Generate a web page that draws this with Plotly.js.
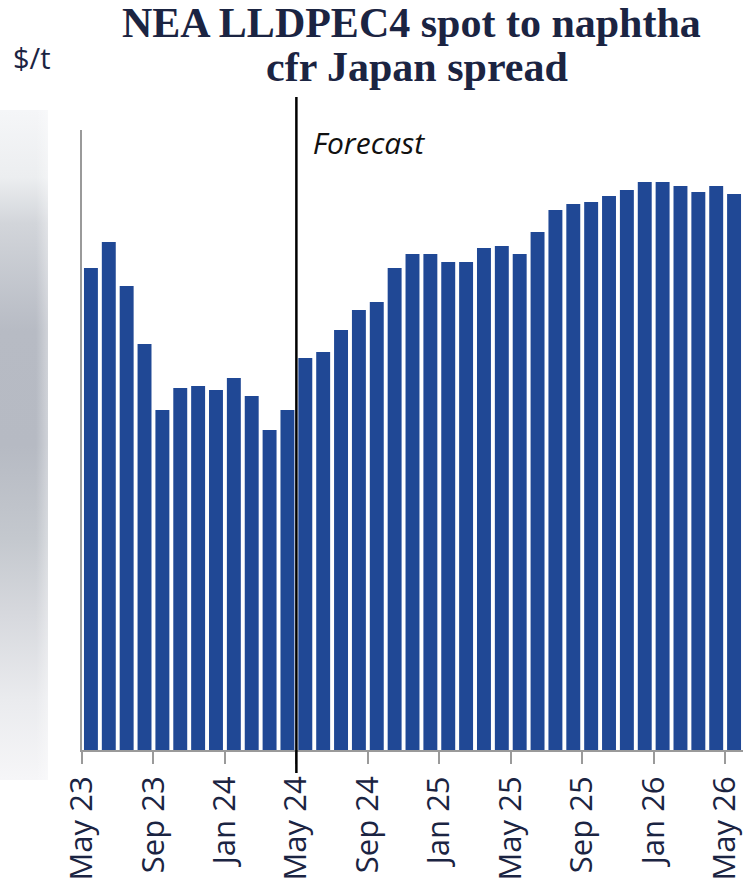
<!DOCTYPE html>
<html>
<head>
<meta charset="utf-8">
<script src="https://cdn.plot.ly/plotly-3.0.1.min.js"></script>
<style>html,body{margin:0;padding:0;background:#fff;}#chart{width:754px;height:884px;}</style>
</head>
<body>
<div id="chart"></div>
<script>
// Monthly periods, May 23 .. May 26 (37 months)
const months = ["May 23","Jun 23","Jul 23","Aug 23","Sep 23","Oct 23","Nov 23","Dec 23",
  "Jan 24","Feb 24","Mar 24","Apr 24","May 24","Jun 24","Jul 24","Aug 24","Sep 24","Oct 24",
  "Nov 24","Dec 24","Jan 25","Feb 25","Mar 25","Apr 25","May 25","Jun 25","Jul 25","Aug 25",
  "Sep 25","Oct 25","Nov 25","Dec 25","Jan 26","Feb 26","Mar 26","Apr 26","May 26"];
// Spread values, $/t (estimated; axis labels are not legible in the reference)
const spread = [482,508,464,406,340,362,364,360,372,354,320,340,
  392,398,420,440,448,482,496,496,488,488,502,504,496,518,540,546,548,554,560,568,568,564,558,564,556];
const tickLabels = ["May 23","Sep 23","Jan 24","May 24","Sep 24","Jan 25","May 25","Sep 25","Jan 26","May 26"];
const titleLines = ["NEA LLDPEC4 spot to naphtha", "cfr Japan spread"];
const forecastStartIndex = 12;

const xIdx = months.map((m, i) => i);
const tickVals = tickLabels.map(t => months.indexOf(t) - 0.5);

const navy = "#1b2442";
const gradSvg = '<svg xmlns="http://www.w3.org/2000/svg" width="48" height="670"><defs>' +
  '<linearGradient id="g" x1="0" y1="0" x2="0" y2="1">' +
  '<stop offset="0" stop-color="#f5f6f8"/><stop offset="0.1" stop-color="#eceef0"/>' +
  '<stop offset="0.17" stop-color="#d2d5da"/><stop offset="0.33" stop-color="#b7bbc4"/>' +
  '<stop offset="0.5" stop-color="#b6bac3"/><stop offset="0.64" stop-color="#c4c8ce"/>' +
  '<stop offset="0.75" stop-color="#d6d8dd"/><stop offset="0.88" stop-color="#eaebee"/>' +
  '<stop offset="1" stop-color="#f6f6f8"/></linearGradient>' +
  '<linearGradient id="h" x1="0" y1="0" x2="1" y2="0"><stop offset="0" stop-color="#fff" stop-opacity="0"/>' +
  '<stop offset="0.75" stop-color="#fff" stop-opacity="0"/><stop offset="1" stop-color="#fff" stop-opacity="0.35"/></linearGradient></defs>' +
  '<rect width="48" height="670" fill="url(#g)"/><rect width="48" height="670" fill="url(#h)"/></svg>';
const gradUri = "data:image/svg+xml;charset=utf-8," + encodeURIComponent(gradSvg);

const trace = {
  type: "bar",
  x: xIdx,
  y: spread,
  marker: {color: "#204895"},
  width: 0.78,
  hoverinfo: "skip"
};

const PW = 661, PH = 620, PB = 134; // plot area size and bottom margin
const py = yPix => (884 - PB - yPix) / PH;   // pixel row -> paper y
const px = xPix => (xPix - 82) / PW;         // pixel col -> paper x

const titleFont = {family: "Liberation Serif, serif", size: 42, color: navy};

const layout = {
  width: 754, height: 884,
  margin: {l: 82, r: 11, t: 130, b: PB},
  paper_bgcolor: "#fff", plot_bgcolor: "#fff",
  showlegend: false,
  bargap: 0.22,
  xaxis: {
    range: [-0.5, 36.5],
    tickmode: "array", tickvals: tickVals, ticktext: tickLabels,
    tickangle: -90,
    ticks: "outside", ticklen: 12, tickwidth: 2, tickcolor: "#9a9a9a",
    showline: true, linecolor: "#9a9a9a", linewidth: 2,
    showgrid: false, zeroline: false,
    tickfont: {family: "Open Sans, Noto Sans, sans-serif", size: 31, color: navy},
    fixedrange: true
  },
  yaxis: {
    range: [0, 620],
    showticklabels: false, ticks: "",
    showline: true, linecolor: "#9a9a9a", linewidth: 2,
    showgrid: false, zeroline: false, fixedrange: true
  },
  shapes: [{
    type: "line", xref: "x", yref: "paper",
    x0: forecastStartIndex - 0.5, x1: forecastStartIndex - 0.5, y0: py(773), y1: py(97),
    line: {color: "#000", width: 2.5}
  }],
  images: [{
    source: gradUri, xref: "paper", yref: "paper",
    x: px(0), y: py(110), sizex: 48 / PW, sizey: 670 / PH,
    xanchor: "left", yanchor: "top", sizing: "stretch", layer: "below"
  }],
  annotations: [{
    text: "<b>" + titleLines[0] + "</b>",
    xref: "paper", yref: "paper", x: px(411), y: py(-2), xanchor: "center", yanchor: "top",
    showarrow: false, font: titleFont
  }, {
    text: "<b>" + titleLines[1] + "</b>",
    xref: "paper", yref: "paper", x: px(417), y: py(42), xanchor: "center", yanchor: "top",
    showarrow: false, font: titleFont
  }, {
    text: "Forecast", xref: "x", yref: "paper",
    x: forecastStartIndex - 0.5, y: py(142), xanchor: "left", yanchor: "middle", xshift: 11,
    showarrow: false,
    font: {family: "Open Sans, Noto Sans, sans-serif", size: 30, color: "#111"}
  }, {
    text: "$/t", xref: "paper", yref: "paper",
    x: px(11), y: py(58), xanchor: "left", yanchor: "middle",
    showarrow: false,
    font: {family: "Open Sans, Noto Sans, sans-serif", size: 29, color: navy}
  }]
};

Plotly.newPlot("chart", [trace], layout, {displayModeBar: false, staticPlot: true}).then(() => {
  document.querySelectorAll(".annotation-text").forEach(el => {
    if (el.textContent === "Forecast") el.style.fontStyle = "italic";
  });
});
</script>
</body>
</html>
